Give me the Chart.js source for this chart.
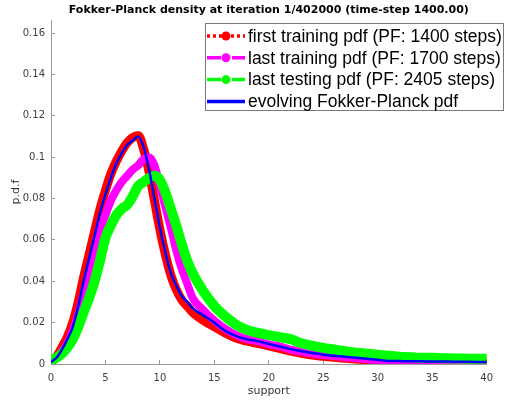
<!DOCTYPE html>
<html>
<head>
<meta charset="utf-8">
<script src="https://cdn.jsdelivr.net/npm/chart.js@4.4.0/dist/chart.umd.min.js"></script>
<style>
  body { margin: 0; background: #fff; }
  canvas { display: block; }
</style>
</head>
<body>
<canvas id="myChart" width="505" height="404"></canvas>
<script>
const support = [
  0, 0.5, 1, 1.5, 2, 2.5, 3, 3.5, 4, 4.5, 5, 5.5, 6, 6.5, 7, 7.5, 8, 8.5, 9, 9.5,
  10, 10.5, 11, 11.5, 12, 12.5, 13,
  14, 15, 16, 17, 18, 19, 20, 21, 22, 23, 24, 25, 26, 27, 28, 29, 30,
  31, 32, 33, 34, 35, 36, 37, 38, 39, 40,
];

const firstTraining = [
  0.001, 0.0035, 0.008, 0.013, 0.020, 0.030, 0.042, 0.053, 0.064, 0.075, 0.084, 0.092, 0.098, 0.103, 0.107, 0.1095, 0.1105, 0.104, 0.093, 0.079,
  0.065, 0.053, 0.043, 0.036, 0.031, 0.028, 0.025,
  0.021, 0.018, 0.015, 0.0125, 0.011, 0.010, 0.0088, 0.0075, 0.0062, 0.0052, 0.0043, 0.0037, 0.0032, 0.0028, 0.0024, 0.002, 0.0016,
  0.0012, 0.0011, 0.001, 0.001, 0.0009, 0.0009, 0.0008, 0.0008, 0.0008, 0.0008,
];

const lastTraining = [
  0.0015, 0.003, 0.006, 0.010, 0.016, 0.024, 0.034, 0.044, 0.055, 0.064, 0.072, 0.079, 0.084, 0.088, 0.091, 0.094, 0.096, 0.099, 0.100, 0.096,
  0.086, 0.076, 0.066, 0.055, 0.046, 0.039, 0.032,
  0.026, 0.021, 0.017, 0.014, 0.012, 0.011, 0.0095, 0.0085, 0.007, 0.006, 0.005, 0.0043, 0.0038, 0.0033, 0.0028, 0.0023, 0.0018,
  0.0014, 0.0012, 0.0011, 0.001, 0.001, 0.0009, 0.0009, 0.0008, 0.0008, 0.0008,
];

const lastTesting = [
  0.002, 0.003, 0.005, 0.008, 0.012, 0.018, 0.025, 0.032, 0.040, 0.050, 0.061, 0.067, 0.072, 0.075, 0.077, 0.081, 0.086, 0.088, 0.090, 0.091,
  0.089, 0.083, 0.075, 0.067, 0.058, 0.050, 0.044,
  0.035, 0.028, 0.023, 0.019, 0.0165, 0.015, 0.014, 0.013, 0.012, 0.010, 0.0088, 0.0078, 0.007, 0.0062, 0.0055, 0.005, 0.0045,
  0.004, 0.0035, 0.0033, 0.003, 0.003, 0.0028, 0.0027, 0.0026, 0.0025, 0.0025,
];

const fokkerPlanck = [
  0.001, 0.003, 0.007, 0.012, 0.018, 0.028, 0.040, 0.051, 0.062, 0.073, 0.082, 0.090, 0.097, 0.102, 0.106, 0.108, 0.110, 0.105, 0.094, 0.080,
  0.066, 0.054, 0.044, 0.038, 0.033, 0.030, 0.027,
  0.0235, 0.020, 0.016, 0.0135, 0.012, 0.011, 0.0097, 0.0085, 0.0072, 0.0062, 0.0053, 0.0045, 0.004, 0.0035, 0.003, 0.0025, 0.002,
  0.0015, 0.0014, 0.0013, 0.0013, 0.0012, 0.0012, 0.0011, 0.0011, 0.001, 0.001,
];

const seriesLabels = [
  "first training pdf (PF: 1400 steps)",
  "last training pdf (PF: 1700 steps)",
  "last testing pdf (PF: 2405 steps)",
  "evolving Fokker-Planck pdf",
];

const chartTitle = "Fokker-Planck density at iteration 1/402000 (time-step 1400.00)";

const xTicks = [0, 5, 10, 15, 20, 25, 30, 35, 40];

const toPoints = (ys) => ys.map((y, i) => ({ x: support[i], y: y }));

// title centred over the axes + matlab style legend box
const matlabDecor = {
  id: "matlabDecor",
  afterDraw(chart) {
    const ctx = chart.ctx;
    const area = chart.chartArea;
    ctx.save();
    ctx.fillStyle = "#000";
    ctx.font = 'bold 11px "DejaVu Sans"';
    ctx.textAlign = "center";
    ctx.textBaseline = "middle";
    ctx.fillText(chartTitle, (area.left + area.right) / 2, 10);

    ctx.fillStyle = "#fff";
    ctx.fillRect(205.5, 23.5, 298, 87);
    ctx.strokeStyle = "#7a7a7a";
    ctx.lineWidth = 1;
    ctx.strokeRect(205.5, 23.5, 298, 87);
    chart.data.datasets.forEach((ds, i) => {
      const y = 36 + i * 21.8;
      ctx.strokeStyle = ds.borderColor;
      ctx.lineWidth = ds.legendWidth;
      ctx.setLineDash(ds.legendDash);
      ctx.beginPath();
      ctx.moveTo(207, y);
      ctx.lineTo(245, y);
      ctx.stroke();
      ctx.setLineDash([]);
      if (ds.legendMarker) {
        ctx.fillStyle = ds.borderColor;
        ctx.beginPath();
        ctx.arc(226, y, 4.5, 0, Math.PI * 2);
        ctx.fill();
      }
      ctx.fillStyle = "#000";
      ctx.font = '17.5px "Liberation Sans", Arial, sans-serif';
      ctx.textBaseline = "middle";
      ctx.textAlign = "left";
      ctx.fillText(ds.label, 248, y + 1);
    });
    ctx.restore();
  },
};

new Chart("myChart", {
  type: "line",
  data: {
    datasets: [
      {
        label: seriesLabels[0],
        data: toPoints(firstTraining),
        borderColor: "#ff0000",
        borderWidth: 9,
        order: 3,
        legendWidth: 3.5,
        legendDash: [3, 3],
        legendMarker: true,
      },
      {
        label: seriesLabels[1],
        data: toPoints(lastTraining),
        borderColor: "#ff00ff",
        borderWidth: 8,
        order: 2,
        legendWidth: 3.5,
        legendDash: [14, 11, 13],
        legendMarker: true,
      },
      {
        label: seriesLabels[2],
        data: toPoints(lastTesting),
        borderColor: "#00ff00",
        borderWidth: 10,
        order: 1,
        legendWidth: 3.5,
        legendDash: [14, 11, 13],
        legendMarker: true,
      },
      {
        label: seriesLabels[3],
        data: toPoints(fokkerPlanck),
        borderColor: "#0000ff",
        borderWidth: 2.5,
        order: 0,
        legendWidth: 3.5,
        legendDash: [],
        legendMarker: false,
      },
    ],
  },
  options: {
    responsive: false,
    animation: false,
    events: [],
    layout: { padding: { left: 0, right: 18, top: 20, bottom: 0 } },
    elements: {
      point: { radius: 0 },
      line: {
        fill: false,
        cubicInterpolationMode: "monotone",
        borderCapStyle: "round",
        borderJoinStyle: "round",
      },
    },
    plugins: {
      legend: { display: false },
      tooltip: { enabled: false },
      title: { display: false },
    },
    scales: {
      x: {
        type: "linear",
        min: 0,
        max: 40,
        afterBuildTicks: (scale) => {
          scale.ticks = xTicks.map((v) => ({ value: v }));
        },
        afterFit: (scale) => {
          scale.height = 40;
        },
        ticks: {
          color: "#404040",
          font: { family: "DejaVu Sans", size: 10 },
          padding: 12,
          maxRotation: 0,
        },
        grid: { drawOnChartArea: false, tickLength: -4, color: "#999" },
        border: { color: "#999" },
        title: {
          display: true,
          text: "support",
          color: "#333",
          font: { family: "DejaVu Sans", size: 11 },
          padding: { top: 0, bottom: 6 },
        },
      },
      y: {
        min: 0,
        max: 0.1663,
        afterFit: (scale) => {
          scale.width = 51;
        },
        ticks: {
          stepSize: 0.02,
          includeBounds: false,
          color: "#404040",
          font: { family: "DejaVu Sans", size: 10 },
          padding: 10,
          callback: (v) => String(+v.toFixed(2)),
        },
        grid: { drawOnChartArea: false, tickLength: -4, color: "#999" },
        border: { color: "#999" },
        title: {
          display: true,
          text: "p.d.f",
          color: "#333",
          font: { family: "DejaVu Sans", size: 11 },
          padding: { top: 10, bottom: 0 },
        },
      },
    },
  },
  plugins: [matlabDecor],
});
</script>
</body>
</html>
